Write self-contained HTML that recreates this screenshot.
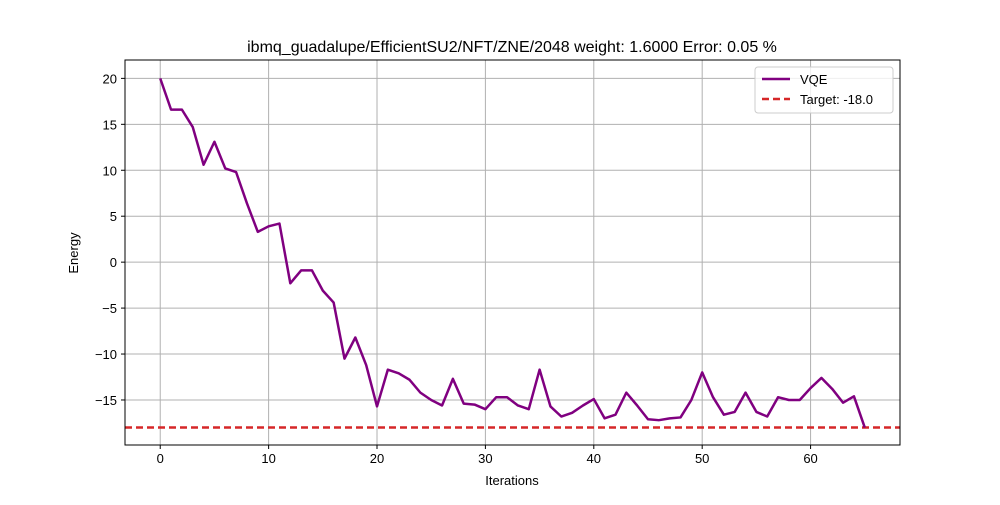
<!DOCTYPE html>
<html><head><meta charset="utf-8"><style>
body{margin:0;background:#fff;font-family:"Liberation Sans","DejaVu Sans",sans-serif}
</style></head><body>
<svg width="1000" height="500" xmlns="http://www.w3.org/2000/svg" font-family="Liberation Sans, DejaVu Sans, sans-serif">
<g id="grid"></g>
<g id="ticks"></g>
<g id="series"></g>
<rect x="125" y="60" width="775" height="385" fill="none" stroke="#000" stroke-width="1"/>
<text x="512" y="52" text-anchor="middle" font-size="16">ibmq_guadalupe/EfficientSU2/NFT/ZNE/2048 weight: 1.6000 Error: 0.05 %</text>
<text x="512" y="485" text-anchor="middle" font-size="13">Iterations</text>
<text x="78" y="253" text-anchor="middle" font-size="13" transform="rotate(-90 78 253)">Energy</text>
<g>
<rect x="755" y="67" width="138" height="46" rx="3" fill="#fff" fill-opacity="0.8" stroke="#ccc"/>
<line x1="762" y1="79" x2="790" y2="79" stroke="#800080" stroke-width="2.5"/>
<text x="800" y="84" font-size="13">VQE</text>
<line x1="762" y1="99" x2="790" y2="99" stroke="#d62728" stroke-width="2.5" stroke-dasharray="7,4"/>
<text x="800" y="104" font-size="13">Target: -18.0</text>
</g>
</svg>
<script>
const energy=[20,16.6,16.6,14.7,10.6,13.1,10.2,9.8,6.4,3.3,3.9,4.2,-2.3,-0.9,-0.9,-3.1,-4.4,-10.5,-8.2,-11.2,-15.7,-11.7,-12.1,-12.8,-14.2,-15.0,-15.6,-12.7,-15.4,-15.5,-16.0,-14.7,-14.7,-15.6,-16.0,-11.7,-15.7,-16.8,-16.4,-15.6,-14.9,-17.0,-16.6,-14.2,-15.6,-17.1,-17.2,-17.0,-16.9,-15.0,-12.0,-14.7,-16.6,-16.3,-14.2,-16.3,-16.8,-14.7,-15.0,-15.0,-13.7,-12.6,-13.8,-15.3,-14.6,-18.0];
const target=-18.0;
const xTicks=[0,10,20,30,40,50,60];
const yTicks=[20,15,10,5,0,-5,-10,-15];
const NS="http://www.w3.org/2000/svg";
const X0=125,X1=900,Y0=60,Y1=445;
const xmin=-3.25,xmax=68.25,ymin=-19.9,ymax=22.0;
function sx(v){return X0+(v-xmin)/(xmax-xmin)*(X1-X0);}
function sy(v){return Y1-(v-ymin)/(ymax-ymin)*(Y1-Y0);}
function mk(t,a,p){const e=document.createElementNS(NS,t);for(const k in a)e.setAttribute(k,a[k]);p.appendChild(e);return e;}
const grid=document.getElementById('grid'),ticks=document.getElementById('ticks'),series=document.getElementById('series');
xTicks.forEach(v=>{const x=sx(v);
const g=mk('line',{x1:x,x2:x,y1:Y0,y2:Y1,stroke:'#b0b0b0','stroke-width':1},grid);


mk('line',{x1:x,x2:x,y1:Y1,y2:Y1+4,stroke:'#000'},ticks);
const t=mk('text',{x:x,y:Y1+18,'text-anchor':'middle','font-size':13},ticks);t.textContent=v;

});
yTicks.forEach(v=>{const y=sy(v);
const g=mk('line',{x1:X0,x2:X1,y1:y,y2:y,stroke:'#b0b0b0','stroke-width':1},grid);


mk('line',{x1:X0-4,x2:X0,y1:y,y2:y,stroke:'#000'},ticks);
const t=mk('text',{x:X0-8,y:y+5,'text-anchor':'end','font-size':13},ticks);t.textContent=v<0?'\u2212'+Math.abs(v):v;

});
const tl=mk('line',{x1:X0,x2:X1,y1:sy(target),y2:sy(target),stroke:'#d62728','stroke-width':2.5,'stroke-dasharray':'7,4'},series);


const pl=mk('polyline',{points:energy.map((v,i)=>sx(i)+','+sy(v)).join(' '),fill:'none',stroke:'#800080','stroke-width':2.5,'stroke-linejoin':'round'},series);


</script>
</body></html>
